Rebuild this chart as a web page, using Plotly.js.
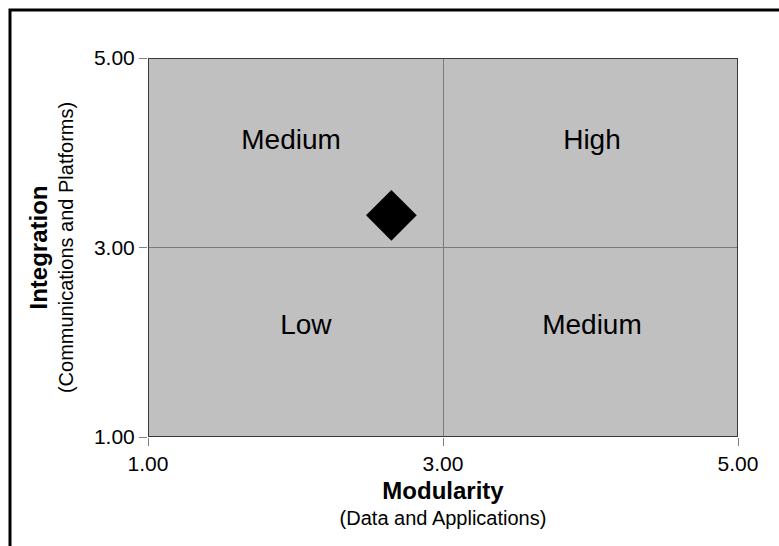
<!DOCTYPE html>
<html>
<head>
<meta charset="utf-8">
<script src="https://cdn.plot.ly/plotly-3.0.1.min.js"></script>
<style>
html,body{margin:0;padding:0;background:#fff;}
#chart{width:779px;height:546px;}
</style>
</head>
<body>
<div id="chart"></div>
<script>
// Data
const quadrantLabels = ['Medium', 'High', 'Low', 'Medium'];
const labelX = [1.97, 4.01, 2.07, 4.01];
const labelY = [4.11, 4.11, 2.16, 2.16];
const pointX = [2.65];
const pointY = [3.34];
const tickVals = [1, 3, 5];
const tickText = ['1.00', '3.00', '5.00'];

const FONT = 'Liberation Sans, Arial, Helvetica, sans-serif';

const traces = [
  {
    type: 'scatter', mode: 'text',
    x: labelX, y: labelY, text: quadrantLabels,
    textposition: 'middle center',
    textfont: {family: FONT, size: 28, color: '#000'},
    hoverinfo: 'skip', showlegend: false
  },
  {
    type: 'scatter', mode: 'markers',
    x: pointX, y: pointY,
    marker: {symbol: 'diamond', size: 39, color: '#000', line: {width: 0}},
    showlegend: false
  }
];

const axisCommon = {
  range: [1, 5],
  tickvals: tickVals,
  ticktext: tickText,
  showgrid: true,
  gridcolor: '#7a7a7a',
  gridwidth: 1,
  zeroline: false,
  showline: false,
  ticks: 'outside',
  ticklen: 8,
  tickcolor: '#808080',
  tickfont: {family: FONT, size: 21, color: '#000'},
  fixedrange: true
};

const layout = {
  width: 779, height: 546,
  margin: {l: 148, r: 41, t: 58, b: 109, pad: 0},
  paper_bgcolor: '#ffffff',
  plot_bgcolor: '#c0c0c0',
  font: {family: FONT, color: '#000'},
  showlegend: false,
  xaxis: Object.assign({}, axisCommon, {
    title: {
      text: "<b><span style='font-size:24px'>Modularity</span></b><br>(Data and Applications)",
      font: {family: FONT, size: 20, color: '#000'},
      standoff: 10
    }
  }),
  yaxis: Object.assign({}, axisCommon, {
    title: {
      text: "<b><span style='font-size:24px'>Integration</span></b><br>(Communications and Platforms)",
      font: {family: FONT, size: 20, color: '#000'},
      standoff: 14
    }
  }),
  shapes: [
    {type: 'rect', xref: 'x', yref: 'y', x0: 1, x1: 5, y0: 1, y1: 5,
     line: {color: '#3a3a3a', width: 2}, layer: 'above'},
    {type: 'rect', xref: 'paper', yref: 'paper',
     x0: (10 - 148) / 590, x1: 1.3, y0: -0.5, y1: (437 - 10) / 379,
     line: {color: '#000', width: 3}, fillcolor: 'rgba(0,0,0,0)', layer: 'above'}
  ]
};

Plotly.newPlot('chart', traces, layout, {displayModeBar: false, staticPlot: true});
</script>
</body>
</html>
